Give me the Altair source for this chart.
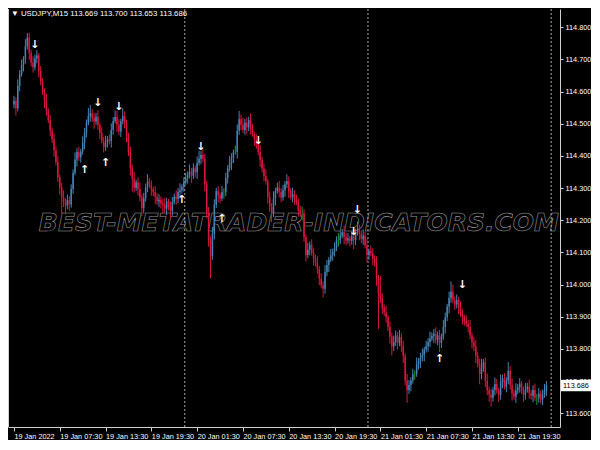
import altair as alt
import pandas as pd

# ---------------- data ----------------
symbol_title = "\u25BC USDJPY,M15  113.669 113.700 113.653 113.686"
watermark_text = "BEST-METATRADER-INDICATORS.COM"
last_price = 113.686
first_open = 114.560

closes = [
    114.572, 114.548, 114.618, 114.655, 114.683, 114.702, 114.741, 114.768, 114.721, 114.690,
    114.676, 114.703, 114.712, 114.664, 114.632, 114.598, 114.571, 114.540, 114.512, 114.478,
    114.452, 114.418, 114.381, 114.334, 114.302, 114.271, 114.258, 114.246, 114.263, 114.249,
    114.297, 114.348, 114.389, 114.412, 114.396, 114.414, 114.441, 114.472, 114.503, 114.524,
    114.533, 114.518, 114.507, 114.522, 114.496, 114.472, 114.447, 114.428, 114.441, 114.452,
    114.446, 114.481, 114.509, 114.521, 114.497, 114.476, 114.508, 114.524, 114.501, 114.462,
    114.412, 114.361, 114.329, 114.301, 114.318, 114.297, 114.271, 114.238, 114.268, 114.302,
    114.321, 114.309, 114.296, 114.287, 114.272, 114.258, 114.264, 114.252, 114.247, 114.236,
    114.258, 114.241, 114.229, 114.257, 114.273, 114.266, 114.288, 114.293, 114.304, 114.318,
    114.331, 114.342, 114.351, 114.338, 114.362, 114.349, 114.378, 114.391, 114.403, 114.392,
    114.312, 114.221, 114.138, 114.089, 114.157, 114.248, 114.291, 114.278, 114.268, 114.287,
    114.287, 114.331, 114.362, 114.378, 114.393, 114.412, 114.412, 114.478, 114.514, 114.497,
    114.481, 114.503, 114.489, 114.512, 114.484, 114.468, 114.451, 114.437, 114.412, 114.388,
    114.361, 114.338, 114.321, 114.272, 114.241, 114.222, 114.268, 114.291, 114.302, 114.288,
    114.271, 114.293, 114.312, 114.321, 114.291, 114.272, 114.281, 114.263, 114.257, 114.231,
    114.222, 114.222, 114.148, 114.092, 114.108, 114.124, 114.098, 114.081, 114.068, 114.048,
    114.018, 113.998, 113.987, 114.038, 114.061, 114.078, 114.091, 114.102, 114.114, 114.138,
    114.138, 114.152, 114.163, 114.148, 114.137, 114.143, 114.136, 114.151, 114.138, 114.162,
    114.171, 114.158, 114.141, 114.152, 114.121, 114.092, 114.104, 114.098, 114.081, 114.068,
    114.018, 113.972, 113.958, 113.928, 113.912, 113.898, 113.868, 113.838, 113.808, 113.821,
    113.842, 113.818, 113.837, 113.808, 113.778, 113.702, 113.672, 113.688, 113.702, 113.721,
    113.721, 113.751, 113.762, 113.773, 113.781, 113.798, 113.808, 113.821, 113.832, 113.841,
    113.847, 113.828, 113.842, 113.818, 113.838, 113.868, 113.898, 113.932, 113.958, 113.978,
    113.951, 113.938, 113.952, 113.928, 113.908, 113.898, 113.887, 113.878, 113.868, 113.842,
    113.821, 113.808, 113.778, 113.752, 113.722, 113.741, 113.758, 113.701, 113.671, 113.658,
    113.648, 113.672, 113.691, 113.671, 113.657, 113.698, 113.708, 113.682, 113.702, 113.731,
    113.688, 113.661, 113.652, 113.671, 113.681, 113.692, 113.668, 113.657, 113.674, 113.683,
    113.662, 113.654, 113.672, 113.648, 113.648, 113.661, 113.642, 113.658, 113.669, 113.686,
]

# wick lengths above / below the body, in 0.001 yen
upper_wick = [
    15, 10, 20, 12, 17, 8, 22, 14, 15, 10,
    20, 12, 17, 8, 15, 10, 12, 22, 8, 15,
    10, 17, 12, 20, 8, 15, 22, 10, 17, 12,
    15, 10, 22, 12, 17, 8, 20, 15, 10, 25,
    25, 12, 15, 12, 20, 8, 17, 12, 22, 10,
    15, 20, 12, 20, 20, 17, 8, 25, 15, 12,
    10, 17, 12, 22, 8, 15, 20, 10, 17, 12,
    22, 10, 15, 8, 20, 12, 17, 10, 15, 22,
    12, 8, 17, 15, 10, 20, 12, 22, 8, 15,
    17, 10, 22, 12, 15, 8, 20, 25, 12, 17,
    15, 10, 20, 12, 22, 17, 10, 15, 8, 20,
    12, 17, 10, 22, 15, 8, 20, 20, 26, 15,
    22, 12, 17, 10, 20, 15, 8, 17, 12, 22,
    10, 15, 20, 8, 17, 12, 22, 10, 15, 20,
    12, 17, 10, 22, 15, 8, 20, 12, 17, 10,
    15, 20, 12, 8, 22, 10, 17, 15, 12, 20,
    10, 17, 12, 22, 15, 8, 20, 10, 17, 12,
    22, 15, 10, 20, 12, 17, 8, 15, 22, 12,
    25, 15, 10, 20, 12, 22, 8, 17, 15, 10,
    20, 12, 55, 15, 10, 22, 8, 17, 12, 20,
    15, 10, 22, 12, 17, 8, 20, 15, 10, 17,
    12, 22, 10, 15, 20, 8, 17, 12, 22, 10,
    15, 20, 12, 17, 10, 22, 15, 8, 20, 32,
    22, 12, 17, 10, 20, 15, 8, 17, 12, 22,
    10, 15, 20, 12, 17, 28, 10, 15, 22, 12,
    17, 10, 20, 15, 8, 22, 12, 17, 10, 28,
    15, 20, 12, 22, 10, 17, 8, 15, 20, 12,
    22, 10, 15, 20, 12, 17, 10, 15, 22, 14,
]
lower_wick = [
    12, 22, 10, 17, 8, 20, 15, 10, 22, 12,
    17, 10, 15, 20, 12, 8, 22, 15, 10, 17,
    12, 20, 10, 15, 22, 50, 17, 28, 12, 20,
    10, 15, 8, 22, 12, 17, 10, 20, 15, 8,
    17, 12, 22, 10, 15, 20, 8, 17, 12, 15,
    10, 20, 15, 8, 22, 12, 17, 10, 15, 20,
    12, 22, 40, 15, 10, 20, 12, 25, 17, 10,
    15, 8, 20, 12, 22, 10, 17, 15, 28, 12,
    20, 10, 22, 15, 8, 17, 12, 20, 10, 15,
    8, 17, 12, 22, 10, 15, 20, 8, 17, 12,
    22, 15, 20, 70, 12, 17, 10, 22, 15, 8,
    20, 12, 17, 10, 22, 15, 8, 20, 12, 17,
    10, 15, 22, 12, 17, 8, 20, 15, 10, 22,
    12, 17, 10, 20, 15, 28, 12, 22, 8, 17,
    15, 10, 20, 12, 22, 8, 17, 15, 10, 20,
    12, 22, 15, 20, 10, 17, 8, 22, 12, 15,
    20, 10, 27, 15, 12, 22, 8, 17, 15, 10,
    20, 12, 8, 22, 15, 10, 17, 12, 28, 15,
    10, 20, 12, 17, 8, 22, 15, 10, 20, 12,
    22, 110, 15, 20, 10, 17, 12, 22, 28, 15,
    12, 20, 10, 17, 22, 15, 40, 12, 20, 10,
    17, 8, 15, 22, 12, 20, 10, 17, 15, 8,
    22, 12, 17, 28, 15, 10, 20, 12, 22, 15,
    10, 17, 12, 20, 8, 22, 15, 10, 17, 12,
    20, 15, 22, 10, 32, 17, 12, 20, 15, 22,
    28, 12, 17, 10, 22, 15, 20, 8, 17, 12,
    15, 22, 10, 20, 12, 17, 8, 22, 15, 10,
    17, 12, 20, 10, 22, 15, 12, 17, 10, 16,
]

time_labels = ["19 Jan 2022", "19 Jan 07:30", "19 Jan 13:30", "19 Jan 19:30",
               "20 Jan 01:30", "20 Jan 07:30", "20 Jan 13:30", "20 Jan 19:30",
               "21 Jan 01:30", "21 Jan 07:30", "21 Jan 13:30", "21 Jan 19:30"]
time_label_bars = [0, 24, 48, 72, 96, 120, 144, 168, 192, 216, 240, 264]
day_separator_bars = [89.5, 185.5, 281.5]
price_ticks = [113.6, 113.7, 113.8, 113.9, 114.0, 114.1, 114.2,
               114.3, 114.4, 114.5, 114.6, 114.7, 114.8]

down_arrow_bars = [11, 44, 55, 98, 128, 180, 178, 235]
down_arrow_prices = [114.745, 114.566, 114.552, 114.428, 114.448, 114.231, 114.165, 114.000]
up_arrow_bars = [37, 48, 88, 109, 223]
up_arrow_prices = [114.357, 114.378, 114.264, 114.204, 113.770]

# ---------------- build tables ----------------
n = min(len(closes), len(upper_wick), len(lower_wick))
opens = [first_open] + closes[:-1]
rows = []
for i in range(n):
    o, c = opens[i], closes[i]
    rows.append({
        "bar": i,
        "open": o,
        "close": c,
        "high": max(o, c) + upper_wick[i] / 1000.0,
        "low": min(o, c) - lower_wick[i] / 1000.0,
        "dir": "up" if c > o else ("down" if c < o else "doji"),
    })
candles = pd.DataFrame(rows)

arrows = pd.DataFrame(
    [{"bar": b, "price": p, "glyph": "\u2193"} for b, p in zip(down_arrow_bars, down_arrow_prices)]
    + [{"bar": b, "price": p, "glyph": "\u2191"} for b, p in zip(up_arrow_bars, up_arrow_prices)]
)
seps = pd.DataFrame({"bar": day_separator_bars})
last_df = pd.DataFrame({"price": [last_price]})

W, H = 552, 418
FONT = "Liberation Sans, Arial, sans-serif"
AXIS_COL = "#cfcfcf"

x_scale = alt.Scale(domain=[-0.5, 283.5], nice=False, zero=False)
y_scale = alt.Scale(domain=[113.557, 114.857], nice=False, zero=False)

labels_js = "[" + ",".join("'" + t + "'" for t in time_labels) + "]"
bars_js = "[" + ",".join(str(b) for b in time_label_bars) + "]"

x_axis = alt.Axis(values=time_label_bars,
                  labelExpr=f"{labels_js}[indexof({bars_js}, datum.value)]",
                  labelAlign="left", labelBaseline="top", tickSize=4, labelPadding=1,
                  labelFlush=False, labelOverlap=False, labelBound=False, title=None)
y_axis = alt.Axis(orient="right", values=price_ticks, format=".3f", tickSize=3,
                  labelPadding=2, labelOverlap=False, title=None)

color = alt.Color("dir:N", scale=alt.Scale(domain=["up", "down", "doji"],
                                            range=["#4682B4", "#DC143C", "#1fa01f"]),
                  legend=None)

X = alt.X("bar:Q", scale=x_scale, axis=x_axis)


def Y(field):
    return alt.Y(field, scale=y_scale, axis=y_axis)


watermark = alt.Chart(pd.DataFrame({"t": [watermark_text]})).mark_text(
    font="DejaVu Sans", fontSize=25, fontStyle="italic", fontWeight="bold",
    fillOpacity=0, stroke="#9a9a9a", strokeWidth=0.6,
    align="center", baseline="middle"
).encode(text="t:N", x=alt.value(W * 0.527), y=alt.value(H * 0.511))

separators = alt.Chart(seps).mark_rule(
    color="#a8a8a8", strokeDash=[2, 2], strokeWidth=1
).encode(x=X)

wicks = alt.Chart(candles).mark_rule(strokeWidth=1).encode(
    x=X, y=Y("low:Q"), y2="high:Q", color=color,
)

bodies = alt.Chart(candles).mark_bar(width=1.5).encode(
    x=X, y=Y("open:Q"), y2="close:Q", color=color,
)

arrow_marks = alt.Chart(arrows).mark_text(
    font="DejaVu Sans", fontSize=11, fontWeight="bold", color="white",
    align="center", baseline="middle"
).encode(x=X, y=Y("price:Q"), text="glyph:N")

left_frame = alt.Chart(last_df).mark_rule(color=AXIS_COL, strokeWidth=1).encode(
    x=alt.value(0.5), y=alt.value(0), y2=alt.value(H)
)

title_mark = alt.Chart(pd.DataFrame({"t": [symbol_title]})).mark_text(
    font=FONT, fontSize=7.8, color="white", align="left", baseline="middle"
).encode(text="t:N", x=alt.value(3), y=alt.value(5))

price_box = alt.Chart(last_df).mark_point(
    shape="M-1,-0.38H1V0.38H-1Z", filled=True, fill="white", opacity=1,
    strokeWidth=0, size=900
).encode(x=alt.value(W + 16), y=Y("price:Q"))

price_text = alt.Chart(last_df).mark_text(
    font=FONT, fontSize=7.3, color="black", align="center", baseline="middle"
).encode(x=alt.value(W + 16), y=Y("price:Q"),
         text=alt.Text("price:Q", format=".3f"))

chart = alt.layer(
    watermark, separators, wicks, bodies, arrow_marks, left_frame,
    title_mark, price_box, price_text
).properties(
    width=W, height=H, background="black", padding=0
).configure_view(
    stroke=None
).configure_axis(
    labelColor="white", labelFont=FONT, labelFontSize=7.3,
    domainColor=AXIS_COL, tickColor=AXIS_COL, grid=False
)

chart.save("out.html", embed_options={"renderer": "svg", "actions": False})
